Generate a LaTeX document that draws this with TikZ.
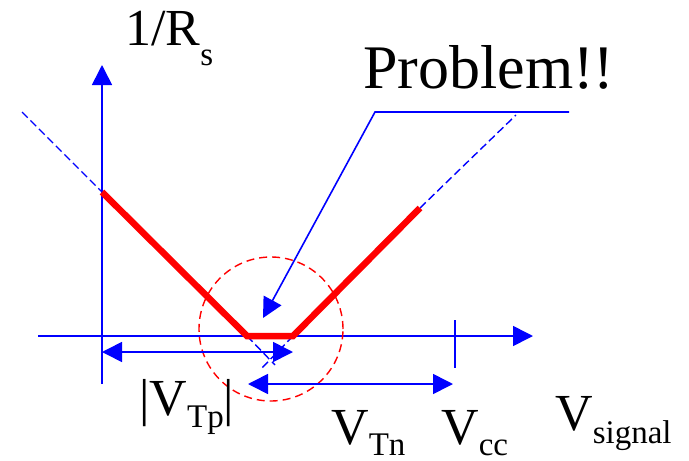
\documentclass[tikz,border=0pt]{standalone}
\usepackage{fontspec}
\setmainfont{Liberation Serif}
\usetikzlibrary{arrows.meta}
\newcommand{\bigf}{\fontsize{52}{52}\selectfont}
\newcommand{\subf}{\fontsize{33}{33}\selectfont}
\newcommand{\lowsub}[2]{\raisebox{-#1}{\subf #2}}
\tikzset{
  axis/.style={draw=blue, line width=1.6pt, -{Triangle[length=20pt,width=20pt]}},
  dimarrow/.style={draw=blue, line width=1.6pt, {Triangle[length=20pt,width=20pt]}-{Triangle[length=20pt,width=20pt]}},
  thin blue/.style={draw=blue, line width=1.6pt},
  ext/.style={draw=blue, line width=1.4pt, dash pattern=on 8pt off 4pt},
  curve/.style={draw=red, line width=6.5pt, line join=miter},
  ring/.style={draw=red, line width=1.4pt, dash pattern=on 8pt off 5pt},
  lbl/.style={inner sep=0pt, anchor=base west, font=\bigf},
}
\begin{document}
\begin{tikzpicture}[x=1pt,y=-1pt]
\useasboundingbox (0,0) rectangle (689,461);
% coordinates
\coordinate (yb) at (102,384);
\coordinate (yt) at (102,65);
\coordinate (xl) at (38,336);
\coordinate (xr) at (533,336);
\coordinate (c0) at (102,192);
\coordinate (c1) at (247,336);
\coordinate (c2) at (293,336);
\coordinate (c3) at (420,208);
\coordinate (d0) at (22,112);
\coordinate (d3) at (516,115);
\coordinate (e1) at (275,365);
\coordinate (e2) at (262,368);
\coordinate (cc) at (271,329);
\coordinate (k1) at (569,112);
\coordinate (k2) at (375,112);
\coordinate (k3) at (263,318);
\coordinate (p1) at (102,352);
\coordinate (p2) at (293,352);
\coordinate (n1) at (248,384);
\coordinate (n2) at (453,384);
\coordinate (t1) at (455,320);
\coordinate (t2) at (455,368);
% axes
\draw[axis] (yb) -- (yt);
\draw[axis] (xl) -- (xr);
\draw[thin blue] (t1) -- (t2);
% dashed extensions
\draw[ext] (d0) -- (c0);
\draw[ext] (c3) -- (d3);
\draw[ext] (c1) -- (e1);
\draw[ext] (c2) -- (e2);
% curve
\draw[curve] (c0) -- (c1) -- (c2) -- (c3);
% ring
\draw[ring] (cc) circle[radius=72pt];
% callout
\draw[thin blue, -{Triangle[length=20pt,width=20pt]}] (k1) -- (k2) -- (k3);
% dimension arrows
\draw[dimarrow] (p1) -- (p2);
\draw[dimarrow] (n1) -- (n2);
% labels
\node[lbl] (ry) at (125,45) {1/R\lowsub{20pt}{s}};
\node[lbl, font=\fontsize{62}{62}\selectfont] (prob) at (363,88) {Problem!!};
\node[lbl] (vtp) at (139,415) {|V\lowsub{12pt}{Tp}|};
\node[lbl] (vtn) at (331,444) {V\lowsub{11pt}{Tn}};
\node[lbl] (vcc) at (441,444) {V\lowsub{11pt}{cc}};
\node[lbl] (vsig) at (555,430) {V\lowsub{13pt}{signal}};
\end{tikzpicture}
\end{document}
